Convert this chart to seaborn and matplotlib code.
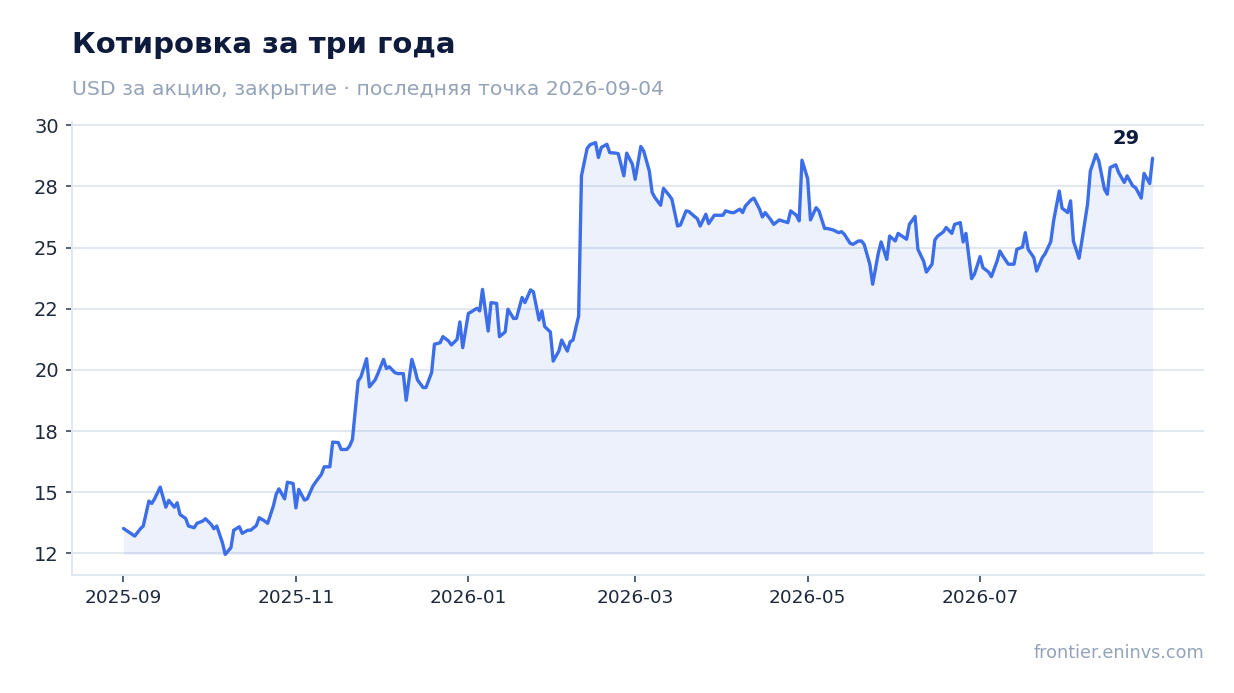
import matplotlib
matplotlib.use("Agg")
import matplotlib.pyplot as plt
import matplotlib.dates as mdates
import matplotlib.ticker as mticker
import seaborn as sns
import pandas as pd
import numpy as np

# ---- data ----
start_date = "2025-09-01"
day_offsets = [
    0, 4, 6, 7, 9, 10, 11, 13, 15, 16, 18, 19, 20, 22, 23, 25, 26, 28, 29, 31,
    32, 33, 35, 36, 38, 39, 41, 42, 44, 45, 47, 48, 50, 51, 53, 54, 55, 57, 58, 60,
    61, 62, 64, 65, 67, 68, 70, 71, 73, 74, 76, 77, 79, 80, 81, 83, 84, 86, 87, 89,
    90, 92, 93, 94, 96, 97, 99, 100, 102, 103, 104, 106, 107, 109, 110, 112, 113, 115, 116, 118,
    119, 120, 122, 123, 125, 126, 127, 129, 130, 132, 133, 135, 136, 138, 139, 141, 142, 144, 145, 147,
    148, 149, 151, 152, 154, 155, 157, 158, 159, 161, 162, 164, 165, 167, 168, 169, 171, 172, 174, 175,
    177, 178, 180, 181, 183, 184, 186, 187, 188, 190, 191, 193, 194, 196, 197, 199, 200, 202, 203, 204,
    206, 207, 209, 210, 212, 213, 215, 216, 218, 219, 220, 222, 223, 225, 226, 227, 229, 230, 232, 233,
    235, 236, 238, 239, 240, 242, 243, 245, 246, 248, 249, 251, 253, 254, 255, 257, 258, 260, 261, 262,
    264, 265, 267, 268, 270, 271, 273, 274, 275, 277, 278, 280, 281, 283, 284, 286, 287, 288, 290, 291,
    293, 294, 296, 297, 298, 300, 301, 303, 304, 306, 307, 309, 310, 311, 313, 315, 316, 318, 319, 320,
    322, 323, 325, 326, 328, 329, 331, 332, 334, 335, 336, 338, 339, 341, 342, 344, 345, 347, 348, 349,
    351, 352, 354, 355, 357, 358, 360, 361, 363, 364,
]
close_usd = [
    13.52, 13.21, 13.51, 13.62, 14.64, 14.54, 14.73, 15.21, 14.39, 14.67, 14.39, 14.57, 14.09, 13.93, 13.62, 13.55, 13.73, 13.82, 13.92, 13.69,
    13.51, 13.62, 12.94, 12.46, 12.73, 13.45, 13.59, 13.32, 13.45, 13.45, 13.64, 13.96, 13.82, 13.73, 14.43, 14.91, 15.14, 14.73, 15.41, 15.36,
    14.36, 15.12, 14.68, 14.73, 15.25, 15.42, 15.73, 16.04, 16.04, 17.05, 17.03, 16.75, 16.75, 16.89, 17.16, 19.54, 19.72, 20.46, 19.31, 19.59,
    19.85, 20.43, 20.06, 20.13, 19.89, 19.85, 19.85, 18.76, 20.43, 20.05, 19.59, 19.28, 19.28, 19.89, 21.05, 21.11, 21.36, 21.18, 21.02, 21.25,
    21.96, 20.91, 22.31, 22.37, 22.52, 22.41, 23.29, 21.59, 22.75, 22.72, 21.36, 21.55, 22.48, 22.10, 22.11, 22.96, 22.75, 23.27, 23.19, 22.04,
    22.41, 21.77, 21.55, 20.36, 20.77, 21.22, 20.77, 21.15, 21.22, 22.20, 27.93, 29.05, 29.20, 29.29, 28.68, 29.09, 29.22, 28.88, 28.86, 28.84,
    27.93, 28.86, 28.41, 27.79, 29.13, 28.95, 28.13, 27.25, 27.04, 26.73, 27.42, 27.14, 26.97, 25.88, 25.92, 26.50, 26.47, 26.27, 26.18, 25.88,
    26.36, 25.98, 26.32, 26.32, 26.32, 26.50, 26.43, 26.43, 26.57, 26.43, 26.70, 26.95, 27.02, 26.57, 26.25, 26.43, 26.13, 25.95, 26.13, 26.09,
    26.02, 26.50, 26.32, 26.09, 28.57, 27.82, 26.13, 26.63, 26.50, 25.78, 25.78, 25.72, 25.61, 25.65, 25.54, 25.18, 25.13, 25.27, 25.27, 25.13,
    24.32, 23.50, 24.77, 25.23, 24.52, 25.47, 25.27, 25.58, 25.50, 25.34, 25.95, 26.27, 24.93, 24.45, 24.00, 24.32, 25.31, 25.47, 25.64, 25.82,
    25.58, 25.95, 26.02, 25.23, 25.58, 23.73, 23.91, 24.63, 24.18, 24.00, 23.81, 24.45, 24.86, 24.66, 24.32, 24.32, 24.93, 25.02, 25.61, 24.93,
    24.59, 24.04, 24.59, 24.75, 25.24, 26.09, 27.31, 26.61, 26.43, 26.91, 25.27, 24.56, 25.27, 26.77, 28.13, 28.81, 28.54, 27.38, 27.18, 28.27,
    28.38, 28.07, 27.66, 27.93, 27.52, 27.45, 27.02, 28.03, 27.62, 28.65,
]
y_ticks = [12.5, 15.0, 17.5, 20.0, 22.5, 25.0, 27.5, 30.0]
x_tick_months = ["2025-09", "2025-11", "2026-01", "2026-03", "2026-05", "2026-07"]

title = "Котировка за три года"
subtitle = "USD за акцию, закрытие · последняя точка 2026-09-04"
footer = "frontier.eninvs.com"

# ---- styling ----
LINE = "#3b6ee8"
NAVY = "#0f1b3d"
GREY = "#94a3b8"
GRID = "#e2e8f0"
TICK = "#1e293b"

sns.set_theme(style="white")
plt.rcParams["font.family"] = ["DejaVu Sans"]

df = pd.DataFrame({
    "date": pd.Timestamp(start_date) + pd.to_timedelta(day_offsets, unit="D"),
    "close": close_usd,
})

fig = plt.figure(figsize=(12.34, 6.93), dpi=100)
ax = fig.add_axes([72 / 1234, 1 - 575 / 693, (1204 - 72) / 1234, (575 - 122) / 693])

ax.fill_between(df["date"], df["close"], df["close"].min(), color=LINE, alpha=0.09, linewidth=0, zorder=1)
sns.lineplot(data=df, x="date", y="close", ax=ax, color=LINE, linewidth=2.4, zorder=3)

ax.margins(x=0.05, y=0.05)
ax.set_xlabel("")
ax.set_ylabel("")

ax.yaxis.set_major_locator(mticker.FixedLocator(y_ticks))
ax.yaxis.set_major_formatter(mticker.FuncFormatter(lambda v, p: f"{v:.0f}"))
ax.xaxis.set_major_locator(mticker.FixedLocator(mdates.date2num(pd.to_datetime(x_tick_months))))
ax.xaxis.set_major_formatter(mdates.DateFormatter("%Y-%m"))

ax.grid(axis="y", color=GRID, linewidth=1.4, zorder=0)
ax.grid(axis="x", visible=False)
for side in ["top", "right"]:
    ax.spines[side].set_visible(False)
for side in ["left", "bottom"]:
    ax.spines[side].set_color(GRID)
    ax.spines[side].set_linewidth(1.4)

ax.tick_params(axis="y", labelsize=14, length=4.5, width=1.3, pad=5, left=True,
               color="#475569", labelcolor=TICK)
ax.tick_params(axis="x", labelsize=13.3, length=5, width=1.3, pad=5, bottom=True,
               color="#475569", labelcolor=TICK)

last = df.iloc[-1]
ax.annotate(f"{last['close']:.0f}", xy=(last["date"], last["close"]), xytext=(-26, 20),
            textcoords="offset pixels", ha="center", va="center",
            fontsize=14, fontweight="bold", color=NAVY, zorder=5)

fig.text(72 / 1234, 1 - 53 / 693, title, fontsize=21, fontweight="bold", color=NAVY,
         ha="left", va="baseline")
fig.text(72 / 1234, 1 - 95 / 693, subtitle, fontsize=14.7, color=GREY, ha="left", va="baseline")
fig.text(1204 / 1234, 1 - 658 / 693, footer, fontsize=12.7, color=GREY, ha="right", va="baseline")

fig.savefig("out.png", dpi=100)
